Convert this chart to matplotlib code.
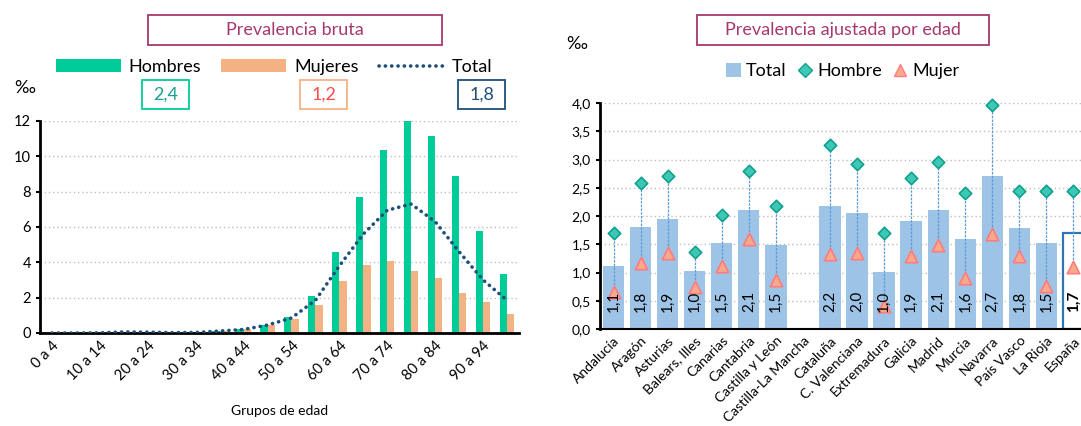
import numpy as np
import matplotlib
matplotlib.use("Agg")
import matplotlib.pyplot as plt
from matplotlib.patches import Patch, Rectangle
from matplotlib.lines import Line2D
from matplotlib.ticker import FuncFormatter

plt.rcParams['font.family'] = ['Lato', 'DejaVu Sans']

# ---- data: prevalencia bruta by age group ----
grupos = ['0 a 4', '5 a 9', '10 a 14', '15 a 19', '20 a 24', '25 a 29', '30 a 34',
          '35 a 39', '40 a 44', '45 a 49', '50 a 54', '55 a 59', '60 a 64', '65 a 69',
          '70 a 74', '75 a 79', '80 a 84', '85 a 89', '90 a 94', '95 y más']
hombres = [0.0, 0.0, 0.01, 0.06, 0.04, 0.02, 0.03, 0.12, 0.25, 0.47, 0.92, 2.1,
           4.6, 7.7, 10.35, 12.0, 11.15, 8.9, 5.8, 3.35]
mujeres = [0.0, 0.0, 0.01, 0.04, 0.03, 0.02, 0.03, 0.1, 0.22, 0.43, 0.8, 1.6,
           2.95, 3.85, 4.08, 3.52, 3.12, 2.28, 1.77, 1.09]
total = [0.0, 0.0, 0.01, 0.06, 0.05, 0.02, 0.03, 0.11, 0.2, 0.45, 0.85, 1.85,
         3.8, 5.6, 6.95, 7.3, 6.3, 4.6, 3.0, 1.85]
resumen = ['2,4', '1,2', '1,8']

# ---- data: prevalencia ajustada por CCAA ----
ccaa = ['Andalucía', 'Aragón', 'Asturias', 'Balears, Illes', 'Canarias', 'Cantabria',
        'Castilla y León', 'Castilla-La Mancha', 'Cataluña', 'C. Valenciana',
        'Extremadura', 'Galicia', 'Madrid', 'Murcia', 'Navarra', 'País Vasco',
        'La Rioja', 'España']
aj_total = [1.11, 1.80, 1.95, 1.02, 1.52, 2.11, 1.49, np.nan, 2.18, 2.05, 1.01,
            1.91, 2.11, 1.59, 2.71, 1.79, 1.52, 1.70]
aj_hombre = [1.70, 2.59, 2.71, 1.36, 2.01, 2.80, 2.18, np.nan, 3.26, 2.92, 1.70,
             2.68, 2.96, 2.41, 3.96, 2.45, 2.45, 2.45]
aj_mujer = [0.65, 1.16, 1.34, 0.75, 1.11, 1.60, 0.86, np.nan, 1.33, 1.35, 0.41,
            1.29, 1.49, 0.91, 1.68, 1.29, 0.76, 1.10]

GREEN = '#00CC99'
ORANGE = '#F4B183'
NAVY = '#1F4E79'
LBLUE = '#9DC3E6'
TITLE_C = '#A6386F'
W, H = 1081, 426

fig = plt.figure(figsize=(10.81, 4.26), dpi=100)


def boxed(x0, y0, x1, y1, txt, tc, ec, size=13):
    # box given in pixels from the top-left corner
    fig.add_artist(Rectangle((x0/W, 1-y1/H), (x1-x0)/W, (y1-y0)/H, fc='white',
                             ec=ec, lw=1.3, transform=fig.transFigure))
    fig.text((x0+x1)/2/W, 1-(y0+y1)/2/H, txt, fontsize=size, color=tc,
             ha='center', va='center')


# ================= left chart =================
ax = fig.add_axes([40/W, 1-333/H, 479/W, 212/H])
x = np.arange(len(grupos))
w = 0.3
ax.bar(x - w/2, hombres, width=w, color=GREEN, zorder=2)
ax.bar(x + w/2, mujeres, width=w, color=ORANGE, zorder=2)
ax.plot(x, total, color=NAVY, lw=2.6, linestyle=(0, (0.05, 1.7)),
        dash_capstyle='round', zorder=3)
ax.set_xlim(-0.5, len(grupos) - 0.5)
ax.set_ylim(0, 12)
ax.set_yticks(range(0, 13, 2))
ax.set_xticks(x[::2])
ax.set_xticklabels(grupos[::2], rotation=45, ha='right', rotation_mode='anchor', fontsize=10.5)
ax.tick_params(axis='x', length=0, pad=4)
ax.tick_params(axis='y', labelsize=10.5, length=3, width=1.5, direction='out')
ax.grid(axis='y', color='#BFBFBF', linestyle=(0, (1, 2)), lw=1, zorder=0)
for s in ['top', 'right']:
    ax.spines[s].set_visible(False)
ax.spines['left'].set_linewidth(2)
ax.spines['bottom'].set_linewidth(2)
ax.set_xlabel('Grupos de edad', fontsize=10, labelpad=16)
fig.text(14/W, 1-88/H, '‰', fontsize=13, va='center', ha='left')

boxed(148, 15, 442, 45, 'Prevalencia bruta', TITLE_C, TITLE_C)
handles = [Patch(fc=GREEN, ec='none'), Patch(fc=ORANGE, ec='none'),
           Line2D([0], [0], color=NAVY, lw=2.6, linestyle=(0, (0.05, 1.7)),
                  dash_capstyle='round')]
fig.legend(handles, ['Hombres', 'Mujeres', 'Total'], ncol=3, frameon=False,
           loc='center', bbox_to_anchor=(274/W, 1-67/H), fontsize=13,
           handlelength=3.6, handleheight=0.75, columnspacing=1.1, handletextpad=0.45)
box_pos = [(142, 189), (300, 347), (458, 505)]
box_cols = [('#1A9E8F', GREEN), ('#FF4B4B', ORANGE), (NAVY, NAVY)]
for (bx0, bx1), (tc, ec), val in zip(box_pos, box_cols, resumen):
    boxed(bx0, 80, bx1, 109, val, tc, ec)

# ================= right chart =================
ax2 = fig.add_axes([600/W, 1-329/H, 487/W, 226/H])
xr = np.arange(len(ccaa))
bcol = [LBLUE] * (len(ccaa) - 1) + ['white']
becol = ['none'] * (len(ccaa) - 1) + ['#2E75B6']
ax2.bar(xr, aj_total, width=0.79, color=bcol, edgecolor=becol, lw=1.6, zorder=2)
ax2.vlines(xr, aj_mujer, aj_hombre, color='#5B9BD5', lw=0.9,
           linestyles=(0, (2, 1)), zorder=3)
ax2.scatter(xr, aj_hombre, marker='D', s=40, color='#3CC8B4', edgecolor='#12A08E',
            lw=1.2, zorder=4, clip_on=False)
ax2.scatter(xr, aj_mujer, marker='^', s=80, color='#F8A98A', edgecolor='#FF7C80',
            lw=1.2, zorder=4, clip_on=False)
for i, v in enumerate(aj_total):
    if np.isnan(v):
        continue
    ax2.text(i, 0.3, f'{v:.1f}'.replace('.', ','), rotation=90, ha='center', va='bottom',
             fontsize=11, fontweight='bold' if i == len(ccaa) - 1 else 'normal', zorder=5)
ax2.set_xlim(-0.5, len(ccaa) - 0.5)
ax2.set_ylim(0, 4)
ax2.set_yticks(np.arange(0, 4.01, 0.5))
ax2.yaxis.set_major_formatter(FuncFormatter(lambda v, p: f'{v:.1f}'.replace('.', ',')))
ax2.set_xticks(xr)
ax2.set_xticklabels(ccaa, rotation=45, ha='right', rotation_mode='anchor', fontsize=10)
ax2.tick_params(axis='x', length=0, pad=4)
ax2.tick_params(axis='y', labelsize=10, length=3, width=1.5, direction='out')
ax2.grid(axis='y', color='#BFBFBF', linestyle=(0, (1, 2)), lw=1, zorder=0)
for s in ['top', 'right']:
    ax2.spines[s].set_visible(False)
ax2.spines['left'].set_linewidth(2)
ax2.spines['bottom'].set_linewidth(1.5)
fig.text(566/W, 1-44/H, '‰', fontsize=13, va='center', ha='left')

boxed(697, 15, 989, 45, 'Prevalencia ajustada por edad', TITLE_C, TITLE_C)
handles2 = [Patch(fc=LBLUE, ec='none'),
            Line2D([0], [0], marker='D', color='none', markerfacecolor='#3CC8B4',
                   markeredgecolor='#12A08E', markersize=7),
            Line2D([0], [0], marker='^', color='none', markerfacecolor='#F8A98A',
                   markeredgecolor='#FF7C80', markersize=9)]
fig.legend(handles2, ['Total', 'Hombre', 'Mujer'], ncol=3, frameon=False,
           loc='center', bbox_to_anchor=(843/W, 1-71/H), fontsize=13,
           handlelength=0.8, handleheight=0.8, columnspacing=0.6, handletextpad=0.3)

fig.savefig('out.png', dpi=100)
